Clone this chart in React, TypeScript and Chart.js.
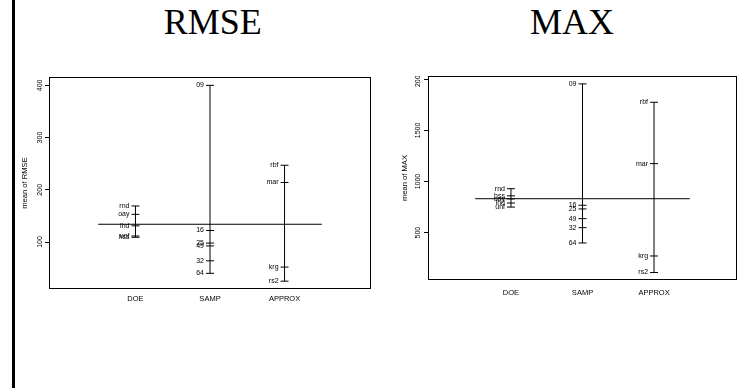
import React, { useEffect, useRef } from "react";
import { Chart, registerables } from "chart.js";

Chart.register(...registerables);

// ---- data ----
const FACTORS = ["DOE", "SAMP", "APPROX"];
const DOE_LEVELS = ["rnd", "hss", "oay", "lhd", "unf"];
const SAMP_LEVELS = ["09", "16", "25", "32", "49", "64"];
const APPROX_LEVELS = ["krg", "mar", "rbf", "rs2"];

const RMSE_DOE = [169, 109, 153, 131, 111.5];
const RMSE_SAMP = [400, 122, 98, 64, 92.5, 40];
const RMSE_APPROX = [52, 214, 247, 25];
const RMSE_MEAN = 134;
const RMSE_TICKS = [100, 200, 300, 400];
const RMSE_RANGE = [10, 416];

const MAX_DOE = [930, 860, 830, 790, 750];
const MAX_SAMP = [1955, 768, 732, 549, 637, 399];
const MAX_APPROX = [272, 1175, 1775, 110];
const MAX_MEAN = 832;
const MAX_TICKS = [500, 1000, 1500, 2000];
const MAX_RANGE = [37, 2032];

const X_RANGE = [-0.16, 4.16];

const SANS = "'Liberation Sans', Arial, Helvetica, sans-serif";

type PanelProps = {
  groups: { levels: string[]; values: number[] }[];
  mean: number;
  ticks: number[];
  range: number[];
  yTitle: string;
  left: number;
  top: number;
  width: number;
  height: number;
  axisWidth: number;
  xAxisHeight: number;
  xLabelPad: number;
  padding: { left: number; right: number; top: number; bottom: number };
  titleOffset: number;
};

const framePlugin = {
  id: "designFrame",
  afterDatasetsDraw(chart: any) {
    const { ctx, chartArea: a } = chart;
    ctx.save();
    ctx.strokeStyle = "#000";
    ctx.lineWidth = 1;
    ctx.strokeRect(
      Math.round(a.left) + 0.5,
      Math.round(a.top) + 0.5,
      Math.round(a.right - a.left) - 1,
      Math.round(a.bottom - a.top) - 1
    );
    ctx.font = `7px ${SANS}`;
    ctx.textAlign = "right";
    ctx.textBaseline = "middle";
    ctx.fillStyle = "#000";
    chart.data.datasets.forEach((ds: any, di: number) => {
      if (!ds.levelLabels) return;
      const meta = chart.getDatasetMeta(di);
      meta.data.forEach((el: any, j: number) => {
        ctx.fillText(ds.levelLabels[j], el.x - 6, el.y);
      });
    });
    ctx.restore();
  },
};

function Panel(p: PanelProps) {
  const ref = useRef<HTMLCanvasElement | null>(null);
  useEffect(() => {
    if (!ref.current) return;
    const datasets: any[] = [];
    p.groups.forEach((g, i) => {
      const x = i + 1;
      datasets.push({
        data: [
          { x, y: Math.min(...g.values) },
          { x, y: Math.max(...g.values) },
        ],
        showLine: true,
        borderColor: "#000",
        borderWidth: 1,
        pointRadius: 0,
      });
      datasets.push({
        data: g.values.map((v) => ({ x, y: v })),
        levelLabels: g.levels,
        showLine: false,
        pointStyle: "line",
        pointRadius: 4,
        borderColor: "#000",
        backgroundColor: "#000",
        borderWidth: 1,
      });
    });
    datasets.push({
      data: [
        { x: 0.5, y: p.mean },
        { x: 3.5, y: p.mean },
      ],
      showLine: true,
      borderColor: "#000",
      borderWidth: 1,
      pointRadius: 0,
    });

    const chart = new Chart(ref.current, {
      type: "scatter",
      data: { datasets },
      plugins: [framePlugin],
      options: {
        animation: false,
        responsive: false,
        events: [],
        layout: { padding: p.padding, autoPadding: false },
        plugins: {
          legend: { display: false },
          title: { display: false },
          tooltip: { enabled: false },
        },
        scales: {
          x: {
            type: "linear",
            min: X_RANGE[0],
            max: X_RANGE[1],
            afterBuildTicks: (s: any) => {
              s.ticks = FACTORS.map((_, i) => ({ value: i + 1 }));
            },
            afterFit: (s: any) => {
              s.height = p.xAxisHeight;
              s.paddingLeft = 0;
              s.paddingRight = 0;
              s.paddingTop = 0;
              s.paddingBottom = 0;
            },
            ticks: {
              autoSkip: false,
              maxRotation: 0,
              minRotation: 0,
              padding: p.xLabelPad,
              color: "#000",
              font: { family: SANS, size: 7.5 },
              callback: (v: any) => FACTORS[Math.round(v) - 1] ?? "",
            },
            grid: { display: false, drawTicks: false },
            border: { display: false },
          },
          y: {
            type: "linear",
            min: p.range[0],
            max: p.range[1],
            afterBuildTicks: (s: any) => {
              s.ticks = p.ticks.map((v) => ({ value: v }));
            },
            afterFit: (s: any) => {
              s.width = p.axisWidth;
              s.paddingLeft = 0;
              s.paddingRight = 0;
              s.paddingTop = 0;
              s.paddingBottom = 0;
            },
            ticks: {
              minRotation: 90,
              maxRotation: 90,
              crossAlign: "center",
              padding: -1.4,
              color: "#000",
              font: { family: SANS, size: 7 },
              callback: (v: any) => String(v),
            },
            grid: {
              drawOnChartArea: false,
              drawTicks: true,
              tickLength: 4,
              color: "#000",
              lineWidth: 1,
            },
            border: { display: false },
            title: {
              display: true,
              text: p.yTitle,
              color: "#000",
              font: { family: SANS, size: 7.6 },
              padding: { top: p.titleOffset, bottom: 0 },
            },
          },
        },
      } as any,
    });
    return () => chart.destroy();
  }, []);
  return (
    <canvas
      ref={ref}
      width={p.width}
      height={p.height}
      style={{
        position: "absolute",
        left: p.left,
        top: p.top,
        width: p.width,
        height: p.height,
      }}
    />
  );
}

const titleStyle = (cx: number): React.CSSProperties => ({
  position: "absolute",
  left: cx - 100,
  width: 200,
  top: 4,
  textAlign: "center",
  fontFamily: "'Liberation Serif', 'Times New Roman', serif",
  fontSize: 36,
  lineHeight: "36px",
  color: "#000",
  whiteSpace: "nowrap",
});

export default function App() {
  return (
    <div
      style={{
        position: "absolute",
        left: 0,
        top: 0,
        width: 746,
        height: 388,
        background: "#fff",
        overflow: "hidden",
      }}
    >
      <div
        style={{
          position: "absolute",
          left: 12,
          top: 0,
          width: 3,
          height: 388,
          background: "#000",
        }}
      />
      <div style={titleStyle(212.7)}>RMSE</div>
      <div style={titleStyle(572)}>MAX</div>
      <Panel
        groups={[
          { levels: DOE_LEVELS, values: RMSE_DOE },
          { levels: SAMP_LEVELS, values: RMSE_SAMP },
          { levels: APPROX_LEVELS, values: RMSE_APPROX },
        ]}
        mean={RMSE_MEAN}
        ticks={RMSE_TICKS}
        range={RMSE_RANGE}
        yTitle="mean of RMSE"
        left={0}
        top={0}
        width={375}
        height={388}
        axisWidth={49}
        xAxisHeight={99}
        xLabelPad={5.5}
        padding={{ left: 0, right: 4, top: 77, bottom: 0 }}
        titleOffset={20.4}
      />
      <Panel
        groups={[
          { levels: DOE_LEVELS, values: MAX_DOE },
          { levels: SAMP_LEVELS, values: MAX_SAMP },
          { levels: APPROX_LEVELS, values: MAX_APPROX },
        ]}
        mean={MAX_MEAN}
        ticks={MAX_TICKS}
        range={MAX_RANGE}
        yTitle="mean of MAX"
        left={375}
        top={76}
        width={371}
        height={312}
        axisWidth={53}
        xAxisHeight={108}
        xLabelPad={8.5}
        padding={{ left: 0, right: 9, top: 0, bottom: 0 }}
        titleOffset={25.4}
      />
    </div>
  );
}
